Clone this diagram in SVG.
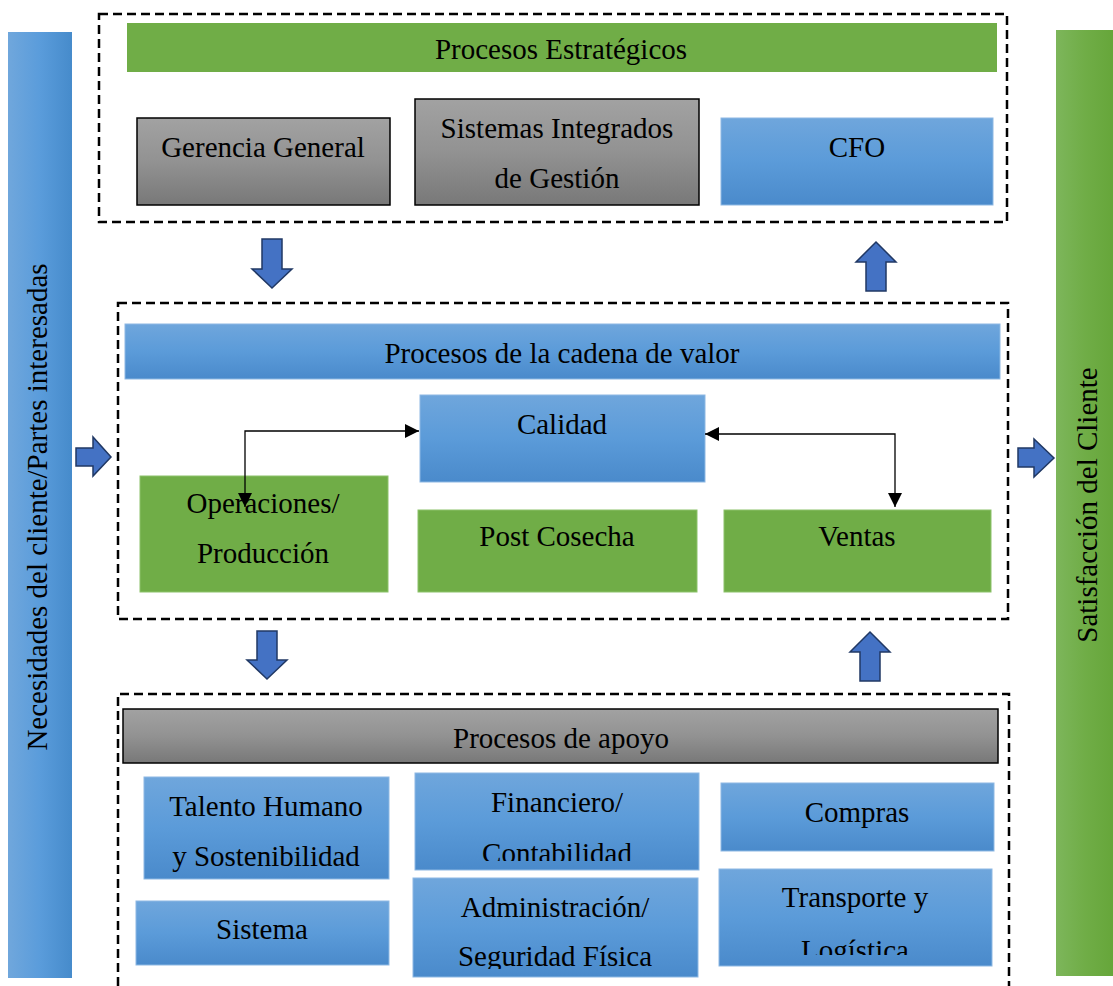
<svg xmlns="http://www.w3.org/2000/svg" width="1113" height="986" viewBox="0 0 1113 986">
<style>
text{font-family:"Liberation Serif","Times New Roman",serif;font-size:29px;fill:#000;text-anchor:middle}
.dash{fill:none;stroke:#000;stroke-width:2.5;stroke-dasharray:9 5}
.blue{fill:url(#gBlue);stroke:#8db8e3;stroke-width:1}
.gray{fill:url(#gGray);stroke:#000;stroke-width:1.5}
.green{fill:#70ad47;stroke:#8cc26a;stroke-width:1}
.barrow{fill:#4472c4;stroke:#203864;stroke-width:1.5;stroke-linejoin:miter}
.conn{fill:none;stroke:#000;stroke-width:1.3}
</style>
<defs>
<linearGradient id="gBlue" x1="0" y1="0" x2="0" y2="1">
<stop offset="0" stop-color="#6fa6dc"/><stop offset="0.5" stop-color="#5b9bd9"/><stop offset="1" stop-color="#4a8acb"/>
</linearGradient>
<linearGradient id="gBlueH" x1="0" y1="0" x2="1" y2="0">
<stop offset="0" stop-color="#70a7dc"/><stop offset="0.5" stop-color="#5a9cdb"/><stop offset="1" stop-color="#468bcb"/>
</linearGradient>
<linearGradient id="gGreenH" x1="0" y1="0" x2="1" y2="0">
<stop offset="0" stop-color="#7db65b"/><stop offset="0.5" stop-color="#70ad47"/><stop offset="1" stop-color="#66a63a"/>
</linearGradient>
<linearGradient id="gGray" x1="0" y1="0" x2="0" y2="1">
<stop offset="0" stop-color="#a2a2a2"/><stop offset="0.5" stop-color="#929292"/><stop offset="1" stop-color="#787878"/>
</linearGradient>
<marker id="ah" viewBox="0 0 10 10" markerUnits="userSpaceOnUse" markerWidth="15" markerHeight="14" refX="10" refY="5" orient="auto-start-reverse">
<path d="M0,0 L10,5 L0,10 z" fill="#000"/>
</marker>
<clipPath id="cFin"><rect x="415" y="773" width="284" height="88"/></clipPath>
<clipPath id="cAdm"><rect x="413" y="878" width="285" height="91"/></clipPath>
<clipPath id="cTra"><rect x="719" y="869" width="273" height="86"/></clipPath>
</defs>
<rect width="1113" height="986" fill="#fff"/>

<g id="left-bar">
<rect x="8" y="32" width="64" height="946" fill="url(#gBlueH)"/>
<text transform="translate(47,507) rotate(-90)">Necesidades del cliente/Partes interesadas</text>
</g>
<g id="right-bar">
<rect x="1056" y="30" width="57" height="946" fill="url(#gGreenH)"/>
<text transform="translate(1097,505) rotate(-90)">Satisfacción del Cliente</text>
</g>

<g id="group-estrategicos">
<rect class="dash" x="99" y="14" width="908" height="208"/>
</g>
<g id="procesos-estrategicos">
<rect x="127" y="23" width="870" height="49" fill="#70ad47"/>
<text x="561" y="59">Procesos Estratégicos</text>
</g>
<g id="gerencia-general">
<rect class="gray" x="137" y="118" width="253" height="87"/>
<text x="263" y="157">Gerencia General</text>
</g>
<g id="sistemas-integrados">
<rect class="gray" x="415" y="99" width="284" height="106"/>
<text x="557" y="138">Sistemas Integrados</text>
<text x="557" y="188">de Gestión</text>
</g>
<g id="cfo">
<rect class="blue" x="721" y="118" width="272" height="87"/>
<text x="857" y="157">CFO</text>
</g>

<g id="group-cadena">
<rect class="dash" x="118" y="303" width="890" height="316"/>
</g>
<g id="procesos-cadena">
<rect class="blue" x="125" y="324" width="875" height="55"/>
<text x="562" y="363">Procesos de la cadena de valor</text>
</g>
<g id="calidad">
<rect class="blue" x="420" y="395" width="285" height="87"/>
<text x="562" y="434">Calidad</text>
</g>
<g id="operaciones">
<rect class="green" x="140" y="476" width="248" height="116"/>
<text x="263" y="513">Operaciones/</text>
<text x="263" y="563">Producción</text>
</g>
<g id="post-cosecha">
<rect class="green" x="418" y="510" width="279" height="82"/>
<text x="557" y="546">Post Cosecha</text>
</g>
<g id="ventas">
<rect class="green" x="724" y="510" width="267" height="82"/>
<text x="857" y="546">Ventas</text>
</g>

<g id="group-apoyo">
<path class="dash" d="M118,986 L118,694 L1009,694 L1009,986"/>
</g>
<g id="procesos-apoyo">
<rect class="gray" x="123" y="709" width="875" height="54"/>
<text x="561" y="748">Procesos de apoyo</text>
</g>
<g id="talento-humano">
<rect class="blue" x="144" y="777" width="245" height="102"/>
<text x="266" y="816">Talento Humano</text>
<text x="266" y="866">y Sostenibilidad</text>
</g>
<g id="sistema">
<rect class="blue" x="136" y="901" width="253" height="64"/>
<text x="262" y="939">Sistema</text>
</g>
<g id="financiero">
<rect class="blue" x="415" y="773" width="284" height="97"/>
<g clip-path="url(#cFin)">
<text x="557" y="812">Financiero/</text>
<text x="557" y="863">Contabilidad</text>
</g>
</g>
<g id="administracion">
<rect class="blue" x="413" y="878" width="285" height="99"/>
<g clip-path="url(#cAdm)">
<text x="555" y="917">Administración/</text>
<text x="555" y="966">Seguridad Física</text>
</g>
</g>
<g id="compras">
<rect class="blue" x="721" y="783" width="273" height="68"/>
<text x="857" y="822">Compras</text>
</g>
<g id="transporte">
<rect class="blue" x="719" y="869" width="273" height="97"/>
<g clip-path="url(#cTra)">
<text x="855" y="907">Transporte y</text>
<text x="855" y="960">Logística</text>
</g>
</g>

<g id="connectors">
<polygon class="barrow" points="262,239 282,239 282,269 292,269 272,288 252,269 262,269"/>
<polygon class="barrow" points="876,242 896,262 886,262 886,291 866,291 866,262 856,262"/>
<polygon class="barrow" points="257,631 277,631 277,660 287,660 267,679 247,660 257,660"/>
<polygon class="barrow" points="870,632 890,652 880,652 880,681 860,681 860,652 850,652"/>
<polygon class="barrow" points="76,448 93,448 93,437 111,457 93,476 93,466 76,466"/>
<polygon class="barrow" points="1018,448 1034,448 1034,439 1054,458 1034,477 1034,467 1018,467"/>
<path class="conn" d="M245,507 L245,431 L419,431" marker-start="url(#ah)" marker-end="url(#ah)"/>
<path class="conn" d="M705,434 L895,434 L895,507" marker-start="url(#ah)" marker-end="url(#ah)"/>
</g>
</svg>
